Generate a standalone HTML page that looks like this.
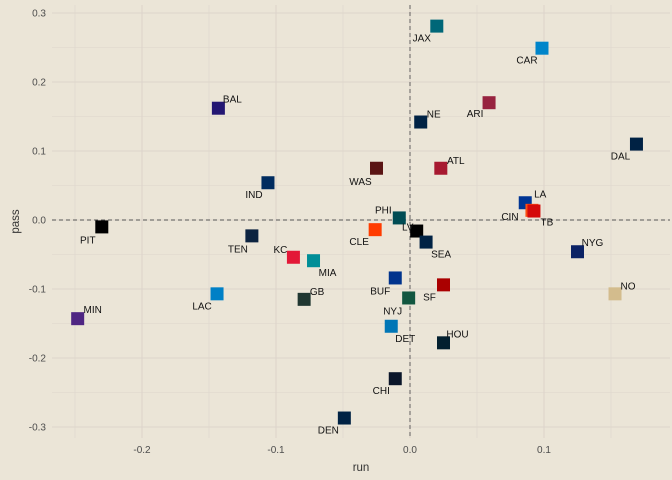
<!DOCTYPE html>
<html><head><meta charset="utf-8"><style>
body{margin:0;background:#ebe5d7;}
svg{display:block;font-family:"Liberation Sans",sans-serif;}
</style></head><body>
<svg id="chart" width="672" height="480"></svg>
<script>
const teams=["JAX","CAR","BAL","ARI","NE","DAL","IND","WAS","ATL","LA","CIN","TB","PIT","PHI","LV","CLE","SEA","TEN","NYG","KC","MIA","BUF","SF","NO","LAC","GB","NYJ","MIN","DET","HOU","CHI","DEN"];
const runVals=[0.020,0.0985,-0.143,0.059,0.008,0.169,-0.106,-0.025,0.023,0.086,0.091,0.0925,-0.230,-0.008,0.005,-0.026,0.012,-0.118,0.125,-0.087,-0.072,-0.011,0.025,0.153,-0.144,-0.079,-0.001,-0.248,-0.014,0.025,-0.011,-0.049];
const passVals=[0.281,0.249,0.162,0.170,0.142,0.110,0.054,0.075,0.075,0.025,0.014,0.013,-0.010,0.003,-0.016,-0.014,-0.032,-0.023,-0.046,-0.054,-0.059,-0.084,-0.094,-0.107,-0.107,-0.115,-0.113,-0.143,-0.154,-0.178,-0.230,-0.287];
const colors=["#006778","#0085ca","#241773","#97233f","#002244","#002244","#002c5f","#5a1414","#a71930","#003594","#fb4f14","#d50a0a","#000000","#004c54","#000000","#ff3c00","#002244","#0c2340","#0b2265","#e31837","#008e97","#00338d","#aa0000","#d3bc8d","#0080c6","#203731","#125740","#4f2683","#0076b6","#03202f","#0b162a","#002244"];
const xTicks=[-0.2,-0.1,0.0,0.1];
const yTicks=[-0.3,-0.2,-0.1,0.0,0.1,0.2,0.3];
// label offsets (px) relative to point
const lblDx=[-15,-15,14,-14,13,-16,-14,-16,15,15,-22,13,-14,-16,-9,-16,15,-14,15,-13,14,-15,-14,13,-15,13,-16,15,14,14,-14,-16];
const lblDy=[12,12,-9,11,-8,12,12,13,-8,-9,6,11,13,-8,-4,12,12,13,-9,-8,12,13,12,-8,12,-8,13,-9,12,-9,12,12];
const NS="http://www.w3.org/2000/svg";
const svg=document.getElementById('chart');
const L=52,R=670,T=5,B=438;
const xs=v=>410+v*1340, ys=v=>220-v*690;
function el(t,a,p){const e=document.createElementNS(NS,t);for(const k in a)e.setAttribute(k,a[k]);(p||svg).appendChild(e);return e;}
const bg=el('rect',{x:L,y:T,width:R-L,height:B-T,fill:'#ebe5d7'});


const grid=el('g',{stroke:'#ddd5cb'});


for(let v=-0.25;v<=0.16;v+=0.05){el('line',{x1:xs(v),x2:xs(v),y1:T,y2:B,'stroke-width':Math.abs(Math.round(v*20)%2)===1?0.6:1.1},grid);}
for(let v=-0.3;v<=0.31;v+=0.05){el('line',{x1:L,x2:R,y1:ys(v),y2:ys(v),'stroke-width':Math.abs(Math.round(v*20)%2)===1?0.6:1.1},grid);}
const z1=el('line',{x1:L,x2:R,y1:ys(0),y2:ys(0),stroke:'#555','stroke-dasharray':'4,3','stroke-width':0.9});


const z2=el('line',{x1:xs(0),x2:xs(0),y1:T,y2:B,stroke:'#555','stroke-dasharray':'4,3','stroke-width':0.9});


xTicks.forEach(v=>{const t=el('text',{x:xs(v),y:453,'text-anchor':'middle','font-size':10,fill:'#4d4d4d'});t.textContent=v.toFixed(1);

});
yTicks.forEach(v=>{const t=el('text',{x:46,y:ys(v)+3.5,'text-anchor':'end','font-size':10,fill:'#4d4d4d'});t.textContent=v.toFixed(1);

});
const xt=el('text',{x:(L+R)/2,y:471,'text-anchor':'middle','font-size':11.5,fill:'#333'});xt.textContent='run';


const yt=el('text',{x:0,y:0,'text-anchor':'middle','font-size':11.5,fill:'#333',transform:'translate(19,'+((T+B)/2)+') rotate(-90)'});yt.textContent='pass';


teams.forEach((tm,i)=>{
 const x=xs(runVals[i]),y=ys(passVals[i]);
 const r=el('rect',{x:x-6.5,y:y-6.5,width:13,height:13,fill:colors[i]});
 
 
});
teams.forEach((tm,i)=>{
 const x=xs(runVals[i]),y=ys(passVals[i]);
 const t=el('text',{x:x+lblDx[i],y:y+lblDy[i]+3.5,'text-anchor':'middle','font-size':10,fill:'#111'});
 t.textContent=tm;
 
 
});
</script>
</body></html>
